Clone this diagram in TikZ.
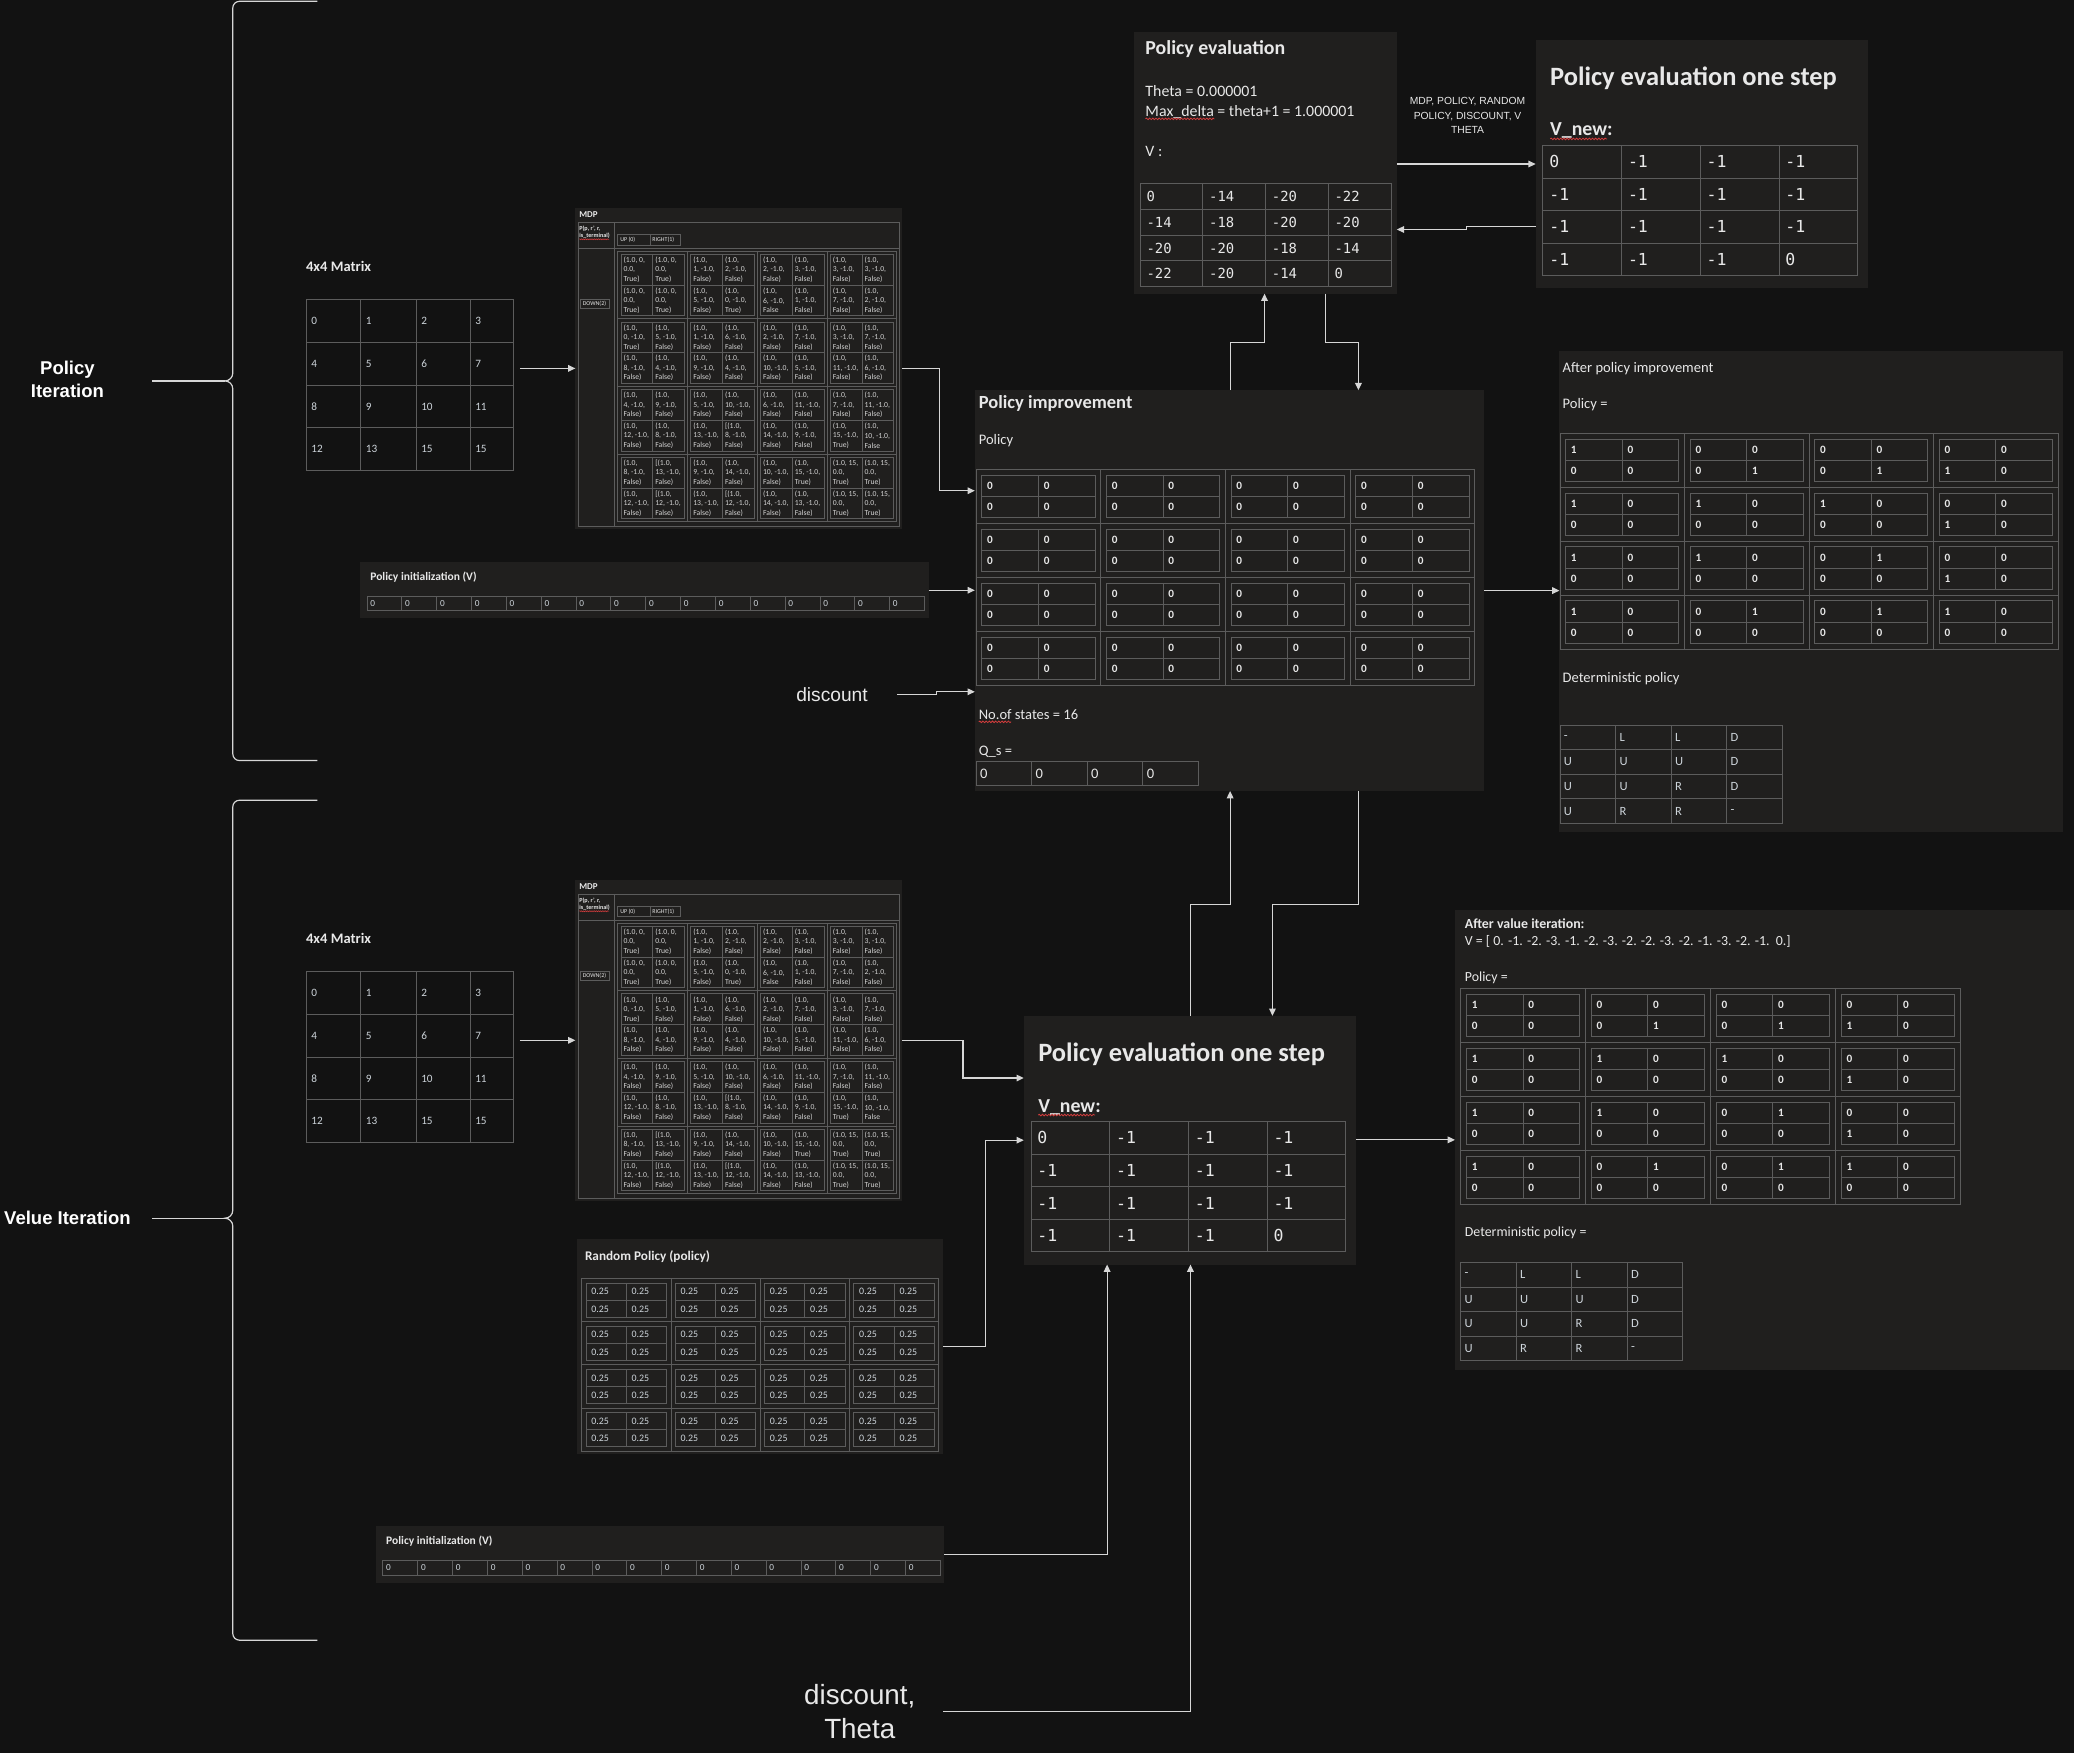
\documentclass[tikz,border=0pt]{standalone}
\usepackage{fontspec}
\setmainfont{Carlito}
\newfontfamily\labelfont{Liberation Sans}
\newfontfamily\codefont{DejaVu Sans Mono}
\usetikzlibrary{arrows.meta,calc,decorations.pathmorphing}

\definecolor{canvas}{HTML}{121212}
\definecolor{panelbg}{HTML}{201F1E}
\definecolor{rule}{HTML}{5C5C5C}
\definecolor{ink}{HTML}{E8E8E8}
\definecolor{softink}{HTML}{CDD4DA}
\definecolor{mdpink}{HTML}{D4D4D4}
\definecolor{wirecol}{HTML}{D6D6D6}
\definecolor{typo}{HTML}{D23C3C}

\newcommand{\fs}[2]{\fontsize{#1}{#2}\selectfont}

\tikzset{
  panel/.style={fill=panelbg, inner sep=0pt, outer sep=0pt, anchor=north west},
  frame/.style={inner sep=0pt, outer sep=0pt, anchor=north west},
  gridline/.style={draw=rule, line width=0.7pt},
  wire/.style={draw=wirecol, line width=0.9pt},
  flow/.style={wire, -{Triangle[length=5.5pt,width=5pt]}},
  txt/.style={text=ink, inner sep=0pt, outer sep=0pt, anchor=west, align=left},
  heading/.style={txt, font=\bfseries\fs{#1}{#1}},
  body/.style={txt, font=\fs{#1}{#1}},
  mdptext/.style={txt, font=\fs{5.8}{7.2}, text=mdpink},
  plan/.style={txt, font=\bfseries\fs{8.5}{8.5}},
  quarter/.style={txt, font=\fs{7.5}{7.5}, text=softink},
  spell/.style={draw=typo, line width=0.6pt, decorate, decoration={snake, amplitude=0.6pt, segment length=2.4pt}},
  sidelabel/.style={text=white, align=center, inner sep=0pt, font=\labelfont\bfseries\fs{14}{17.5}},
  plainlabel/.style n args={2}{text=ink, align=center, inner sep=0pt, font=\labelfont\fs{#1}{#2}},
}

\newcommand{\zeroplan}{0/0/0/0,0/0/0/0,0/0/0/0,0/0/0/0,0/0/0/0,0/0/0/0,0/0/0/0,0/0/0/0,0/0/0/0,0/0/0/0,0/0/0/0,0/0/0/0,0/0/0/0,0/0/0/0,0/0/0/0,0/0/0/0}
\newcommand{\quarterplan}{0.25/0.25/0.25/0.25,0.25/0.25/0.25/0.25,0.25/0.25/0.25/0.25,0.25/0.25/0.25/0.25,0.25/0.25/0.25/0.25,0.25/0.25/0.25/0.25,0.25/0.25/0.25/0.25,0.25/0.25/0.25/0.25,0.25/0.25/0.25/0.25,0.25/0.25/0.25/0.25,0.25/0.25/0.25/0.25,0.25/0.25/0.25/0.25,0.25/0.25/0.25/0.25,0.25/0.25/0.25/0.25,0.25/0.25/0.25/0.25,0.25/0.25/0.25/0.25}
\newcommand{\greedyplan}{1/0/0/0,0/0/0/1,0/0/0/1,0/0/1/0,1/0/0/0,1/0/0/0,1/0/0/0,0/0/1/0,1/0/0/0,1/0/0/0,0/1/0/0,0/0/1/0,1/0/0/0,0/1/0/0,0/1/0/0,1/0/0/0}

\newcommand{\mdpcells}{%
{(1.0, 0,\\0.0,\\True)}/{(1.0, 0,\\0.0,\\True)}/{(1.0, 0,\\0.0,\\True)}/{(1.0, 0,\\0.0,\\True)},%
{(1.0,\\1, -1.0,\\False)}/{(1.0,\\2, -1.0,\\False)}/{(1.0,\\5, -1.0,\\False)}/{(1.0,\\0, -1.0,\\True)},%
{(1.0,\\2, -1.0,\\False)}/{(1.0,\\3, -1.0,\\False)}/{(1.0,\\6, -1.0,\\False}/{(1.0,\\1, -1.0,\\False)},%
{(1.0,\\3, -1.0,\\False)}/{(1.0,\\3, -1.0,\\False)}/{(1.0,\\7, -1.0,\\False)}/{(1.0,\\2, -1.0,\\False)},%
{(1.0,\\0, -1.0,\\True)}/{(1.0,\\5, -1.0,\\False)}/{(1.0,\\8, -1.0,\\False)}/{(1.0,\\4, -1.0,\\False)},%
{(1.0,\\1, -1.0,\\False)}/{(1.0,\\6, -1.0,\\False)}/{(1.0,\\9, -1.0,\\False)}/{(1.0,\\4, -1.0,\\False)},%
{(1.0,\\2, -1.0,\\False)}/{(1.0,\\7, -1.0,\\False)}/{(1.0,\\10, -1.0,\\False)}/{(1.0,\\5, -1.0,\\False)},%
{(1.0,\\3, -1.0,\\False)}/{(1.0,\\7, -1.0,\\False)}/{(1.0,\\11, -1.0,\\False)}/{(1.0,\\6, -1.0,\\False)},%
{(1.0,\\4, -1.0,\\False)}/{(1.0,\\9, -1.0,\\False)}/{(1.0,\\12, -1.0,\\False)}/{(1.0,\\8, -1.0,\\False)},%
{(1.0,\\5, -1.0,\\False)}/{(1.0,\\10, -1.0,\\False)}/{(1.0,\\13, -1.0,\\False)}/{[(1.0,\\8, -1.0,\\False)},%
{(1.0,\\6, -1.0,\\False)}/{(1.0,\\11, -1.0,\\False)}/{(1.0,\\14, -1.0,\\False)}/{(1.0,\\9, -1.0,\\False)},%
{(1.0,\\7, -1.0,\\False)}/{(1.0,\\11, -1.0,\\False)}/{(1.0,\\15, -1.0,\\True)}/{(1.0,\\10, -1.0,\\False},%
{(1.0,\\8, -1.0,\\False)}/{[(1.0,\\13, -1.0,\\False)}/{(1.0,\\12, -1.0,\\False)}/{[(1.0,\\12, -1.0,\\False)},%
{(1.0,\\9, -1.0,\\False)}/{(1.0,\\14, -1.0,\\False)}/{(1.0,\\13, -1.0,\\False)}/{[(1.0,\\12, -1.0,\\False)},%
{(1.0,\\10, -1.0,\\False)}/{(1.0,\\15, -1.0,\\True)}/{(1.0,\\14, -1.0,\\False)}/{(1.0,\\13, -1.0,\\False)},%
{(1.0, 15,\\0.0,\\True)}/{(1.0, 15,\\0.0,\\True)}/{(1.0, 15,\\0.0,\\True)}/{(1.0, 15,\\0.0,\\True)}}

\newcommand{\statematrix}[3]{%
  \node[heading=11] (#1-label) at (#2,#3-25) {4x4 Matrix};
  \node[frame, minimum width=156.6, minimum height=129.6] (#1) at (#2,#3) {};
  \begin{scope}[shift={(#2,#3)}]
    \draw[gridline] (0,0) rectangle (156.6,129.6);
    \foreach \gx in {41.3,83.1,123.9} \draw[gridline] (\gx,0) -- (\gx,129.6);
    \foreach \gy in {32.4,64.8,97.2} \draw[gridline] (0,\gy) -- (156.6,\gy);
    \foreach \lbl/\cx [count=\k from 0] in {0/0,1/41.3,2/83.1,3/123.9,4/0,5/41.3,6/83.1,7/123.9,8/0,9/41.3,10/83.1,11/123.9,12/0,13/41.3,15/83.1,15/123.9}
      \node[body=8.5, text=softink] (#1-\k) at (\cx+4,{16.2+floor(\k/4)*32.4}) {\lbl};
  \end{scope}}

\newcommand{\mdptable}[3]{%
  \node[panel, minimum width=247, minimum height=243] (#1) at (#2,#3) {};
  \begin{scope}[shift={(#2,#3)}]
    \node[heading=6.8] (#1-title) at (3,5.5) {MDP};
    \draw[gridline] (2,11) rectangle (245,241) (29.4,11) -- (29.4,241) (2,30.8) -- (245,30.8);
    \node[txt, font=\bfseries\fs{4.6}{5.6}] (#1-head) at (3,18.6) {P(p, r', r,\\is\_terminal)};
    \draw[spell, line width=0.4pt, decoration={amplitude=0.35pt, segment length=1.4pt}] (3,23.9) -- (25.5,23.9);
    \draw[gridline] (32,20.2) rectangle (56.7,28.2) (56.7,20.2) rectangle (79.1,28.2) (4,69.3) rectangle (25.7,76.1);
    \node[body=4.5] (#1-up) at (34,24.2) {UP (0)};
    \node[body=4.5] (#1-right) at (58.3,24.2) {RIGHT(1)};
    \node[body=4.5] (#1-down) at (5.6,72.7) {DOWN(2)};
    \foreach \ca/\cb/\cc/\cd [count=\k from 0] in \mdpcells {
      \pgfmathsetmacro\bx{32+mod(\k,4)*52.75}
      \pgfmathsetmacro\by{32.8+floor(\k/4)*51.15}
      \draw[gridline] (\bx,\by) rectangle ++(52.75,51.15);
      \draw[gridline] (\bx+2.5,\by+2.5) rectangle ++(48,46.4) (\bx+26.5,\by+2.5) -- ++(0,46.4) (\bx+2.5,\by+25.7) -- ++(48,0);
      \node[mdptext] (#1-\k-a) at (\bx+4.4,\by+14.1) {\ca};
      \node[mdptext] (#1-\k-b) at (\bx+28.4,\by+14.1) {\cb};
      \node[mdptext] (#1-\k-c) at (\bx+4.4,\by+37.3) {\cc};
      \node[mdptext] (#1-\k-d) at (\bx+28.4,\by+37.3) {\cd};
    }
  \end{scope}}

\newcommand{\policygrid}[8]{%
  \begin{scope}[shift={(#2,#3)}]
    \node[frame, minimum width=4*#4, minimum height=4*#5] (#1) at (0,0) {};
    \foreach \va/\vb/\vc/\vd [count=\k from 0] in #8 {
      \pgfmathsetmacro\bx{mod(\k,4)*#4}
      \pgfmathsetmacro\by{floor(\k/4)*#5}
      \draw[gridline] (\bx,\by) rectangle ++(#4,#5);
      \draw[gridline] (\bx+#6,\by+#6) rectangle (\bx+#4-#6,\by+#5-#6)
        (\bx+#4/2,\by+#6) -- (\bx+#4/2,\by+#5-#6)
        (\bx+#6,\by+#5/2) -- (\bx+#4-#6,\by+#5/2);
      \node[#7] (#1-\k-a) at (\bx+#6+4,\by+#6/2+#5/4) {\va};
      \node[#7] (#1-\k-b) at (\bx+#4/2+4,\by+#6/2+#5/4) {\vb};
      \node[#7] (#1-\k-c) at (\bx+#6+4,\by+#5*3/4-#6/2) {\vc};
      \node[#7] (#1-\k-d) at (\bx+#4/2+4,\by+#5*3/4-#6/2) {\vd};
    }
  \end{scope}}

\newcommand{\valuetable}[7]{%
  \begin{scope}[shift={(#2,#3)}]
    \node[frame, minimum width=4*#4, minimum height=4*#5] (#1) at (0,0) {};
    \draw[gridline] (0,0) rectangle (4*#4,4*#5);
    \foreach \i in {1,2,3} \draw[gridline] (\i*#4,0) -- (\i*#4,4*#5) (0,\i*#5) -- (4*#4,\i*#5);
    \foreach \val [count=\k from 0] in {#7}
      \node[txt, font=\codefont\fs{#6}{#6}] (#1-\k) at ({4.8+mod(\k,4)*#4},{#5/2+floor(\k/4)*#5}) {\val};
  \end{scope}}

\newcommand{\dettable}[3]{%
  \begin{scope}[shift={(#2,#3)}]
    \node[frame, minimum width=168, minimum height=74.4] (#1) at (0,0) {};
    \draw[gridline] (0,0) rectangle (168,74.4);
    \foreach \gx in {42,84,126} \draw[gridline] (\gx,0) -- (\gx,74.4);
    \foreach \gy in {18.6,37.2,55.8} \draw[gridline] (0,\gy) -- (168,\gy);
    \foreach \mv [count=\k from 0] in {-,L,L,D,U,U,U,D,U,U,R,D,U,R,R,-}
      \node[body=9.5, text=softink] (#1-\k) at ({3+mod(\k,4)*42},{9.3+floor(\k/4)*18.6}) {\mv};
  \end{scope}}

\newcommand{\vinitbox}[3]{%
  \node[panel, minimum width=430, minimum height=42.5] (#1) at (#2,#3) {};
  \begin{scope}[shift={(#2,#3)}]
    \node[heading=8.7] (#1-title) at (8,11) {Policy initialization (V)};
    \draw[gridline] (5.5,25.6) rectangle (427,36.7);
    \foreach \i in {1,...,15} \draw[gridline] (5.5+\i*26.34,25.6) -- ++(0,11.1);
    \foreach \i in {0,...,15} \node[body=7, text=softink] (#1-\i) at (8+\i*26.34,31.15) {0};
  \end{scope}}

\newcommand{\onestepbox}[3]{%
  \node[panel, minimum width=251, minimum height=188] (#1) at (#2,#3) {};
  \node[heading=20] (#1-title) at (#2+11,#3+29) {Policy evaluation one step};
  \node[heading=15] (#1-vnew) at (#2+11,#3+69) {V\_new:};
  \draw[spell] ([yshift=-2.2pt]#1-vnew.base west) -- ++(43,0);
  \valuetable{#1-v}{#2+5.5}{#3+80}{59.5}{24.6}{12.5}{0,-1,-1,-1,-1,-1,-1,-1,-1,-1,-1,-1,-1,-1,-1,0}}

\begin{document}
\begin{tikzpicture}[x=1pt,y=-1pt]
\useasboundingbox (0,0) rectangle (1568,1325.3);
\fill[canvas] (0,0) rectangle (1568,1325.3);

\node[sidelabel] (piLabel) at (51,287) {Policy\\Iteration};
\node[sidelabel] (viLabel) at (51,921) {Velue Iteration};
\coordinate (piTip) at (115,288);
\coordinate (piBrace) at (170,288);
\coordinate (viTip) at (115,921);
\coordinate (viBrace) at (170,921);
\draw[wire] (240,1) -- (181,1) to[out=180,in=90] (176,6) -- (176,282) to[out=-90,in=0] (piBrace) to[out=0,in=90] (176,294) -- (176,570) to[out=-90,in=180] (181,575) -- (240,575);
\draw[wire] (240,605) -- (181,605) to[out=180,in=90] (176,610) -- (176,915) to[out=-90,in=0] (viBrace) to[out=0,in=90] (176,927) -- (176,1235) to[out=-90,in=180] (181,1240) -- (240,1240);
\draw[wire] (piTip) -- (piBrace);
\draw[wire] (viTip) -- (viBrace);

\statematrix{gridU}{231.4}{226.3}
\mdptable{mdpU}{435}{157}
\vinitbox{vinitU}{272}{425}
\node[plainlabel={14.5}{17}] (discU) at (629,525) {discount};

\statematrix{gridL}{231.4}{734.3}
\mdptable{mdpL}{435}{665}
\node[panel, minimum width=277, minimum height=162] (rand) at (436,937) {};
\node[heading=10] (rand-title) at (442.3,950.3) {Random Policy (policy)};
\policygrid{rand-plan}{439.8}{966.7}{67.5}{32.6}{3.3}{quarter}{\quarterplan}
\vinitbox{vinitL}{284}{1154}
\node[plainlabel={21}{26}] (discL) at (650,1294) {discount,\\Theta};

\node[panel, minimum width=199, minimum height=198] (pe) at (857,24) {};
\node[heading=15] (pe-title) at (866,37) {Policy evaluation};
\node[body=12] (pe-theta) at (866,69) {Theta = 0.000001};
\node[body=12] (pe-maxd) at (866,84.5) {Max\_delta = theta+1 = 1.000001};
\draw[spell] ([yshift=-2pt]pe-maxd.base west) -- ++(52,0);
\node[body=12] (pe-vlabel) at (866,114.7) {V :};
\valuetable{pe-v}{862}{139}{47.4}{19.4}{10.5}{0,-14,-20,-22,-14,-18,-20,-20,-20,-20,-18,-14,-22,-20,-14,0}

\node[plainlabel={7.8}{10.9}] (passing) at (1109.5,87.5) {MDP, POLICY, RANDOM\\POLICY, DISCOUNT, V\\THETA};
\onestepbox{osU}{1161}{30}

\node[panel, minimum width=385, minimum height=303] (pi) at (737,295) {};
\node[heading=14] (pi-title) at (740,304.7) {Policy improvement};
\node[body=11] (pi-policy) at (740,333) {Policy};
\policygrid{pi-plan}{738}{355}{94.25}{40.8}{4.3}{plan}{\zeroplan}
\node[body=11] (pi-states) at (740,540) {No.of states = 16};
\draw[spell] ([yshift=-2pt]pi-states.base west) -- ++(24.5,0);
\node[body=11] (pi-qs) at (740,568) {Q\_s =};
\draw[gridline] (738,576) rectangle (906,594);
\foreach \i in {1,2,3} \draw[gridline] (738+\i*42,576) -- ++(0,18);
\foreach \i in {0,...,3} \node[body=11] (pi-q-\i) at (741+\i*42,585) {0};

\node[panel, minimum width=381, minimum height=364] (api) at (1179,265) {};
\node[body=11] (api-title) at (1181.4,278.5) {After policy improvement};
\node[body=11] (api-policy) at (1181.4,305.7) {Policy =};
\policygrid{api-plan}{1179.4}{327.6}{94.15}{40.8}{4.3}{plan}{\greedyplan}
\node[body=11] (api-det) at (1181.4,513.3) {Deterministic policy};
\dettable{api-table}{1179.4}{548.1}

\onestepbox{osL}{774}{768}

\node[panel, minimum width=468, minimum height=347.5] (avi) at (1100,688) {};
\node[heading=10.5] (avi-title) at (1107.5,698.6) {After value iteration:};
\node[body=10.5] (avi-v) at (1107.5,711.7) {V = [ 0. -1. -2. -3. -1. -2. -3. -2. -2. -3. -2. -1. -3. -2. -1.\ \ 0.]};
\node[body=10.5] (avi-policy) at (1107.5,739.4) {Policy =};
\policygrid{avi-plan}{1104.2}{747.5}{94.45}{40.7}{4.5}{plan}{\greedyplan}
\node[body=10.5] (avi-det) at (1107.5,932.2) {Deterministic policy =};
\dettable{avi-table}{1104.2}{954.4}

\draw[flow] ($(gridU.east |- mdpU.west)+(5,0)$) -- (mdpU.west);
\draw[flow] (mdpU.east) -- ++(28,0) |- ([yshift=-76pt]pi.north west);
\draw[flow] (vinitU.east) -- (vinitU.east -| pi.west);
\draw[flow] ([xshift=22pt]discU.east) -- ++(30,0) |- ([yshift=-228pt]pi.north west);
\draw[flow] ([xshift=193pt]pi.north west) -- ++(0,-36) -| ([xshift=99pt]pe.south west);
\draw[flow] ([xshift=145pt]pe.south west) -- ++(0,37) -| ([xshift=290pt]pi.north west);
\draw[flow] ([yshift=-100pt]pe.north east) -- ([yshift=-94pt]osU.north west);
\draw[flow] ([yshift=-141.5pt]osU.north west) -- ++(-52,0) |- ([yshift=-149.5pt]pe.north east);
\draw[flow] (pi.east) -- (pi.east -| api.west);

\draw[flow] ($(gridL.east |- mdpL.west)+(5,0)$) -- (mdpL.west);
\draw[flow] (mdpL.east) -- ++(46,0) |- ([yshift=-47pt]osL.north west);
\draw[flow] (rand.east) -- ++(32,0) |- ([yshift=-94pt]osL.north west);
\draw[flow] (vinitL.east) -| ([xshift=63pt]osL.south west);
\draw[flow] ([xshift=21pt]discL.east) -| ([xshift=126pt]osL.south west);
\draw[flow] ([xshift=126pt]osL.north west) -- ++(0,-84) -| ([xshift=193pt]pi.south west);
\draw[flow] ([xshift=290pt]pi.south west) -- ++(0,86) -| ([xshift=188pt]osL.north west);
\draw[flow] (osL.east |- avi.west) -- (avi.west);
\end{tikzpicture}
\end{document}
